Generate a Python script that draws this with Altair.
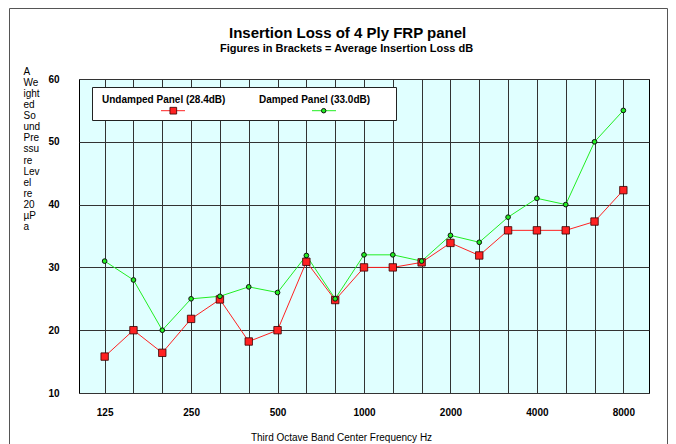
import json
import altair as alt
import pandas as pd

bands = ["125", "160", "200", "250", "315", "400", "500", "630", "800", "1000",
         "1250", "1600", "2000", "2500", "3150", "4000", "5000", "6300", "8000"]
undamped = [15.8, 20.0, 16.4, 21.8, 24.9, 18.2, 20.0, 30.9, 24.8, 30.0,
            30.0, 30.8, 33.9, 31.9, 35.9, 35.9, 35.9, 37.3, 42.3]
damped = [31.0, 28.0, 20.0, 25.0, 25.4, 26.9, 26.0, 31.9, 25.0, 32.0,
          32.0, 31.0, 35.1, 34.0, 38.0, 41.0, 40.0, 50.0, 55.0]
series = ["Undamped Panel (28.4dB)", "Damped Panel (33.0dB)"]
shown_labels = ["125", "250", "500", "1000", "2000", "4000", "8000"]
y_ticks = [10, 20, 30, 40, 50, 60]
y_title_lines = ["A", "We", "ight", "ed", "So", "und", "Pre", "ssu", "re",
                 "Lev", "el", "re", "20", "µP", "a"]
x_title = "Third Octave Band Center Frequency Hz"
title_text = "Insertion Loss of 4 Ply FRP panel"
subtitle_text = "Figures in Brackets = Average Insertion Loss dB"

RED = "#ff2222"
GREEN = "#22ee22"
FONT = "Liberation Sans"

df = pd.DataFrame({
    "band": bands * 2,
    "value": undamped + damped,
    "series": [series[0]] * len(bands) + [series[1]] * len(bands),
})

label_expr = "indexof(%s, datum.label) >= 0 ? datum.label : ''" % json.dumps(shown_labels)

x_enc = alt.X(
    "band:O", sort=bands,
    scale=alt.Scale(type="point", padding=0.89),
    axis=alt.Axis(
        grid=True, labelAngle=0, labelExpr=label_expr, labelFontWeight="bold",
        labelFontSize=10, labelPadding=14, labelFont=FONT,
        title=x_title, titleFontWeight="normal", titleFontSize=10, titleFont=FONT,
        titleX=262, titleY=44, titleBaseline="middle", titleAlign="center",
    ),
)
y_enc = alt.Y(
    "value:Q",
    scale=alt.Scale(domain=[10, 60], nice=False, zero=False),
    axis=alt.Axis(
        values=y_ticks, grid=True, labelFontWeight="bold", labelFontSize=10,
        labelPadding=20, labelFont=FONT,
        title=y_title_lines, titleAngle=0, titleAlign="left", titleBaseline="top",
        titleX=-56, titleY=-13, titleFontSize=10, titleFontWeight="normal",
        titleLineHeight=11.14, titleFont=FONT,
    ),
)
color_enc = alt.Color("series:N", scale=alt.Scale(domain=series, range=[RED, GREEN]), legend=None)

one = alt.InlineData(values=[{"k": 1}])

frame = alt.Chart(one).mark_rect(filled=False, stroke="#555555", strokeWidth=1).encode(
    x=alt.value(-69.5), x2=alt.value(588.5), y=alt.value(-70.5), y2=alt.value(420)
)

title_mark = alt.Chart(one).mark_text(
    font=FONT, fontSize=15, fontWeight="bold", color="black", baseline="alphabetic", align="center"
).encode(x=alt.value(268.6), y=alt.value(-40.7), text=alt.value(title_text))
subtitle_mark = alt.Chart(one).mark_text(
    font=FONT, fontSize=11, fontWeight="bold", color="black", baseline="alphabetic", align="center"
).encode(x=alt.value(267.5), y=alt.value(-26.7), text=alt.value(subtitle_text))

legend_box = alt.Chart(one).mark_rect(fill="white", stroke="#222222", strokeWidth=1).encode(
    x=alt.value(13.5), x2=alt.value(317.5), y=alt.value(8.5), y2=alt.value(41.5)
)
leg_text1 = alt.Chart(one).mark_text(font=FONT, fontSize=10, fontWeight="bold", color="black").encode(
    x=alt.value(84.7), y=alt.value(21), text=alt.value(series[0])
)
leg_text2 = alt.Chart(one).mark_text(font=FONT, fontSize=10, fontWeight="bold", color="black").encode(
    x=alt.value(235.5), y=alt.value(21), text=alt.value(series[1])
)
leg_line1 = alt.Chart(one).mark_rule(color=RED, strokeWidth=1).encode(
    x=alt.value(82), x2=alt.value(106), y=alt.value(31.7)
)
leg_line2 = alt.Chart(one).mark_rule(color=GREEN, strokeWidth=1).encode(
    x=alt.value(233), x2=alt.value(257), y=alt.value(31.7)
)
leg_pt1 = alt.Chart(one).mark_point(shape="square", filled=True, fill=RED, stroke="#330000",
                                    strokeWidth=0.8, size=45, opacity=1).encode(
    x=alt.value(94.3), y=alt.value(31.7)
)
leg_pt2 = alt.Chart(one).mark_point(shape="circle", filled=True, fill=GREEN, stroke="#111111",
                                    strokeWidth=1, size=20, opacity=1).encode(
    x=alt.value(244.7), y=alt.value(31.7)
)

lines = alt.Chart(df).mark_line(strokeWidth=1).encode(
    x=x_enc, y=y_enc, color=color_enc, detail="series:N"
)
red_pts = alt.Chart(df).transform_filter(alt.datum.series == series[0]).mark_point(
    shape="square", filled=True, fill=RED, stroke="#330000", strokeWidth=0.8, size=55, opacity=1
).encode(x=alt.X("band:O", sort=bands), y="value:Q")
green_pts = alt.Chart(df).transform_filter(alt.datum.series == series[1]).mark_point(
    shape="circle", filled=True, fill=GREEN, stroke="#111111", strokeWidth=1, size=22, opacity=1
).encode(x=alt.X("band:O", sort=bands), y="value:Q")

chart = alt.layer(
    frame, title_mark, subtitle_mark,
    legend_box, leg_text1, leg_text2, leg_line1, leg_line2, leg_pt1, leg_pt2,
    lines, red_pts, green_pts,
).properties(
    width=570, height=314,
    autosize=alt.AutoSizeParams(type="none"),
    padding={"left": 71, "top": 71, "right": 19, "bottom": 56},
).configure_view(
    fill="#e0ffff", stroke="black", strokeWidth=1
).configure_axis(
    domain=False, ticks=False, gridColor="#333333", gridOpacity=1, gridWidth=1,
    labelColor="black", titleColor="black",
)

chart.save("out.html", embed_options={"renderer": "svg", "actions": False})
